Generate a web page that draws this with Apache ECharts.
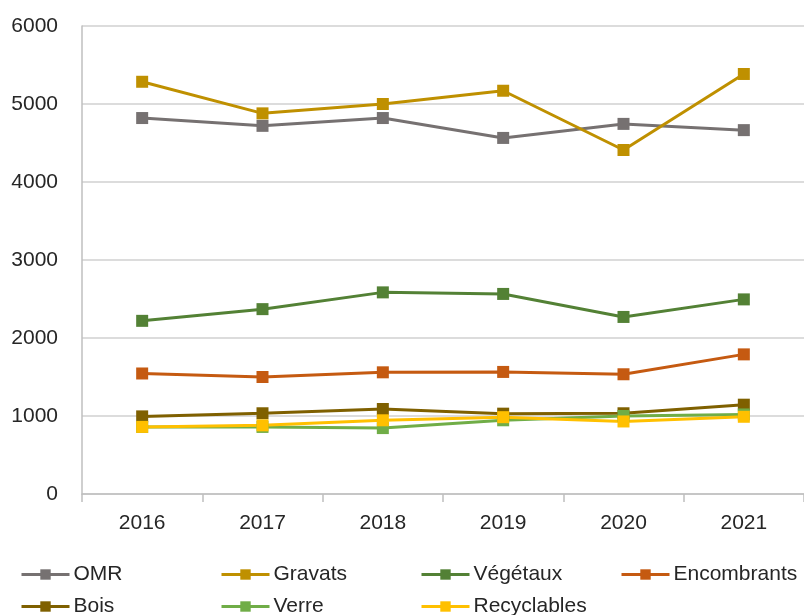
<!DOCTYPE html>
<html>
<head>
<meta charset="utf-8">
<script src="https://cdn.jsdelivr.net/npm/echarts@6/dist/echarts.min.js"></script>
<style>
  html, body { margin: 0; padding: 0; background: #fff; }
  #chart { width: 804px; height: 615px; }
</style>
</head>
<body>
<div id="chart"></div>
<script>
const years = ['2016', '2017', '2018', '2019', '2020', '2021']
const seriesNames = ['OMR', 'Gravats', 'Végétaux', 'Encombrants', 'Bois', 'Verre', 'Recyclables']
const colors = ['#767171', '#BF9000', '#538135', '#C55A11', '#7F6000', '#70AD47', '#FFC000']

const omr = [4820, 4720, 4820, 4565, 4745, 4665]
const gravats = [5285, 4880, 5000, 5170, 4410, 5385]
const vegetaux = [2220, 2370, 2585, 2565, 2270, 2495]
const encombrants = [1545, 1500, 1560, 1565, 1535, 1790]
const bois = [995, 1035, 1090, 1030, 1035, 1145]
const verre = [860, 860, 845, 945, 1000, 1020]
const recyclables = [860, 880, 945, 985, 930, 990]

const values = [omr, gravats, vegetaux, encombrants, bois, verre, recyclables]
const yTicks = [0, 1000, 2000, 3000, 4000, 5000, 6000]

const font = "'Liberation Sans', Arial, sans-serif"
const chart = echarts.init(document.getElementById('chart'))

// one legend per item so each sits on the fixed 200px grid like the original
const legendPos = [[15, 559], [215, 559], [415, 559], [615, 559], [15, 591], [215, 591], [415, 591]]
const legends = seriesNames.map((name, i) => ({
  data: [name],
  left: legendPos[i][0],
  top: legendPos[i][1],
  itemWidth: 48,
  itemHeight: 13,
  itemGap: 0,
  lineStyle: { width: 3 },
  textStyle: { fontFamily: font, fontSize: 21, color: '#262626', padding: [0, 0, 0, -1] },
}))

chart.setOption({
  animation: false,
  color: colors,
  grid: { left: 82, top: 26, width: 725, height: 468 },
  legend: legends,
  xAxis: {
    type: 'category',
    data: years,
    axisLine: { lineStyle: { color: '#bfbfbf', width: 1.5 } },
    axisTick: { show: true, length: 8, lineStyle: { color: '#bfbfbf', width: 1.5 } },
    axisLabel: { fontFamily: font, fontSize: 21, color: '#262626', margin: 19 },
  },
  yAxis: {
    type: 'value',
    min: yTicks[0],
    max: yTicks[yTicks.length - 1],
    interval: 1000,
    axisLine: { show: true, lineStyle: { color: '#bfbfbf', width: 1.5 } },
    axisTick: { show: false },
    splitLine: { lineStyle: { color: '#d0d0d0', width: 1.5 } },
    axisLabel: { fontFamily: font, fontSize: 21, color: '#262626', margin: 24, formatter: v => String(v) },
  },
  series: seriesNames.map((name, i) => ({
    name,
    type: 'line',
    data: values[i],
    symbol: 'rect',
    symbolSize: 12,
    lineStyle: { width: 3, color: colors[i] },
    itemStyle: { color: colors[i] },
  })),
})
</script>
</body>
</html>
